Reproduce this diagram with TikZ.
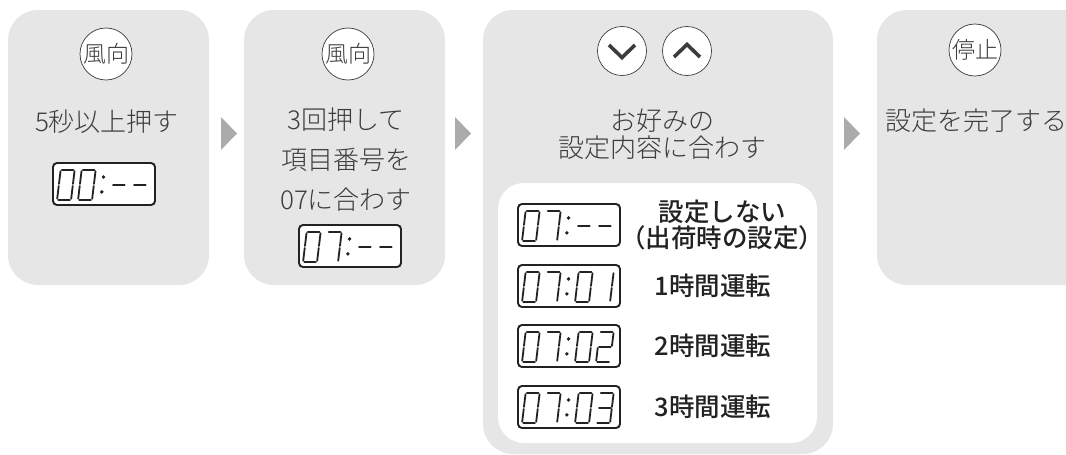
\documentclass[tikz,border=0pt]{standalone}
\usepackage{fontspec}
\setmainfont{Noto Sans CJK JP Light}
\newfontfamily\jpbold{Noto Sans CJK JP Medium}
\usetikzlibrary{positioning,calc}

\definecolor{panelgray}{HTML}{E6E6E6}
\definecolor{arrowgray}{HTML}{ABABAB}
\definecolor{textgray}{HTML}{3C3C3C}
\definecolor{lcdink}{HTML}{222222}

% seven segments of one LCD digit (local units, bottom-left origin)
\newcommand{\sgA}{\draw[lcdseg] (1.2,-30) -- (12.8,-30);}
\newcommand{\sgB}{\draw[lcdseg] (14,-28.8) -- (14,-16);}
\newcommand{\sgC}{\draw[lcdseg] (14,-14) -- (14,-1.2);}
\newcommand{\sgD}{\draw[lcdseg] (1.2,0) -- (12.8,0);}
\newcommand{\sgE}{\draw[lcdseg] (0,-14) -- (0,-1.2);}
\newcommand{\sgF}{\draw[lcdseg] (0,-28.8) -- (0,-16);}
\newcommand{\sgG}{\draw[lcdseg] (1.2,-15) -- (12.8,-15);}
\newcommand{\lcddigit}[2]{%
  \begin{scope}[shift={(#1,-6)}, xslant=0.12]
    \foreach \s in {#2} {\csname sg\s\endcsname}
  \end{scope}}
% LCD: name, centre, four digits
\newcommand{\lcd}[6]{%
  \node[lcdbox] (#1) at (#2) {};
  \begin{scope}[shift={(#1.south west)}]
    \lcddigit{5}{#3}\lcddigit{26}{#4}
    \fill[lcdink] (51.5,-29) circle (1.9pt) (49.8,-14) circle (1.9pt);
    \lcddigit{58}{#5}\lcddigit{79}{#6}
  \end{scope}}

\tikzset{
  panel/.style={fill=panelgray, rounded corners=30pt, inner sep=0pt},
  innerbox/.style={fill=white, rounded corners=26pt, inner sep=0pt},
  keybtn/.style={circle, draw=textgray, line width=0.7pt, fill=white,
    minimum size=52pt, inner sep=0pt, text=textgray, font=\fontsize{23}{23}\selectfont},
  steptext/.style={text=textgray, align=center, font=\fontsize{26}{40}\selectfont},
  optlabel/.style={text=lcdink, align=center, font=\jpbold\fontsize{25.5}{23}\selectfont},
  lcdbox/.style={draw=lcdink, fill=white, line width=1.9pt, rounded corners=4pt,
    minimum width=102pt, minimum height=42pt, inner sep=0pt},
  lcdseg/.style={draw=lcdink, line width=1.8pt, line cap=round},
  chevron/.style={draw=textgray, line width=3.6pt},
  stepmark/.style={fill=arrowgray}
}

\begin{document}
\begin{tikzpicture}[x=1pt, y=-1pt]
  \useasboundingbox (0,0) rectangle (1066,455);
  \clip (0,0) rectangle (1066,455);

  % step 1
  \node[panel, minimum width=201pt, minimum height=275pt] (p1) at (108.5,147.5) {};
  \node[keybtn] (k1) at (106,54) {風向};
  \node[steptext] (t1) at (107,122) {5秒以上押す};
  \lcd{d1}{104,184}{A,B,C,D,E,F}{A,B,C,D,E,F}{G}{G}

  % step 2
  \node[panel, minimum width=201pt, minimum height=275pt] (p2) at (344.5,147.5) {};
  \node[keybtn] (k2) at (348,54) {風向};
  \node[steptext] (t2) at (346,160) {3回押して\\項目番号を\\07に合わす};
  \lcd{d2}{350,246}{A,B,C,D,E,F}{A,B,C}{G}{G}

  % step 3
  \node[panel, minimum width=350pt, minimum height=444pt] (p3) at (658,232) {};
  \node[keybtn, minimum size=49pt] (kd) at (622,51) {};
  \node[keybtn, minimum size=49pt] (ku) at (687,51) {};
  \draw[chevron] ($(kd)+(-13,-6)$) -- ($(kd)+(0,6.5)$) -- ($(kd)+(13,-6)$);
  \draw[chevron] ($(ku)+(-13,6)$) -- ($(ku)+(0,-6.5)$) -- ($(ku)+(13,6)$);
  \node[steptext, font=\fontsize{26}{26.5}\selectfont] (t3) at (662,134) {お好みの\\設定内容に合わす};
  \node[innerbox, minimum width=319pt, minimum height=260pt] (w3) at (657.5,313) {};
  \lcd{d3}{569,225}{A,B,C,D,E,F}{A,B,C}{G}{G}
  \lcd{d4}{569,286}{A,B,C,D,E,F}{A,B,C}{A,B,C,D,E,F}{B,C}
  \lcd{d5}{569,346}{A,B,C,D,E,F}{A,B,C}{A,B,C,D,E,F}{A,B,G,E,D}
  \lcd{d6}{569,407}{A,B,C,D,E,F}{A,B,C}{A,B,C,D,E,F}{A,B,G,C,D}
  \node[optlabel, right=-4pt of d3] (o0) {設定しない\\（出荷時の設定）};
  \node[optlabel, right=30pt of d4] (o1) {1時間運転};
  \node[optlabel, right=30pt of d5] (o2) {2時間運転};
  \node[optlabel, right=30pt of d6] (o3) {3時間運転};

  % step 4
  \node[panel, minimum width=230pt, minimum height=275pt] (p4) at (992,147.5) {};
  \node[keybtn] (k4) at (975,50) {停止};
  \node[steptext] (t4) at (976,121) {設定を完了する};

  % arrows between steps
  \foreach \x in {221,455,844}
    \fill[stepmark] (\x,117) -- ++(16,16.5) -- ++(-16,16.5) -- cycle;
\end{tikzpicture}
\end{document}
